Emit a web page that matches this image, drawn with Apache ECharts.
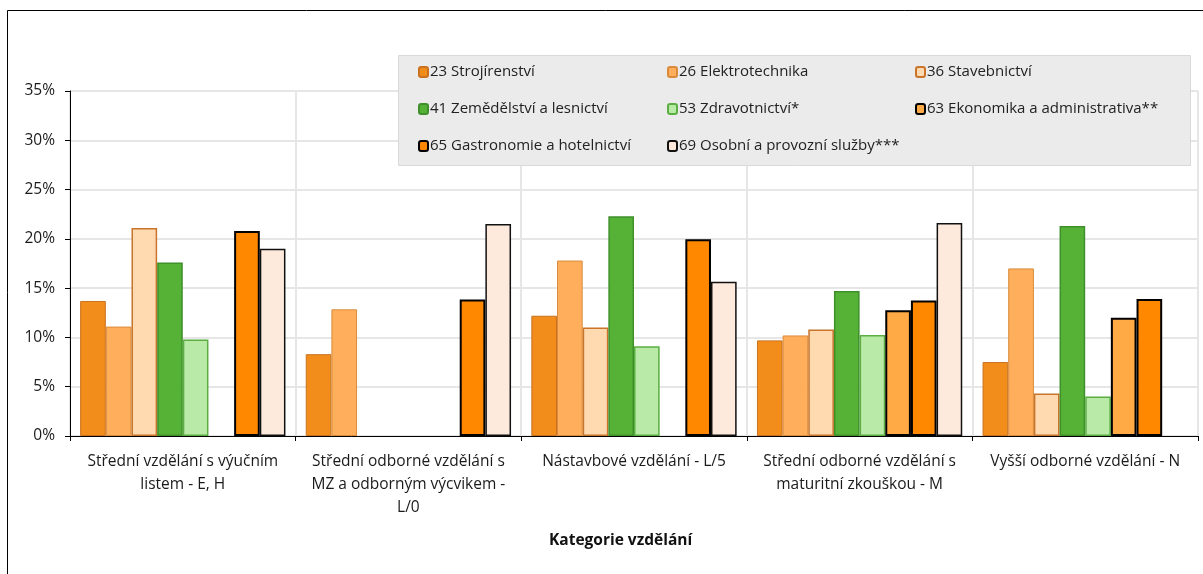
<!DOCTYPE html>
<html><head><meta charset="utf-8">
<script src="https://cdn.jsdelivr.net/npm/echarts@6/dist/echarts.min.js"></script>
<style>html,body{margin:0;padding:0;background:#fff}#c{width:1203px;height:574px}</style>
</head><body><div id="c"></div>
<script>
const categories = [
  "Střední vzdělání s výučním\nlistem - E, H",
  "Střední odborné vzdělání s\nMZ a odborným výcvikem -\nL/0",
  "Nástavbové vzdělání - L/5",
  "Střední odborné vzdělání s\nmaturitní zkouškou - M",
  "Vyšší odborné vzdělání - N"
];
const seriesNames = [
  "23 Strojírenství", "26 Elektrotechnika", "36 Stavebnictví",
  "41 Zemědělství a lesnictví", "53 Zdravotnictví*", "63 Ekonomika a administrativa**",
  "65 Gastronomie a hotelnictví", "69 Osobní a provozní služby***"
];
const s23 = [13.7, 8.3, 12.2, 9.7, 7.5];
const s26 = [11.1, 12.85, 17.8, 10.2, 17.0];
const s36 = [21.1, null, 11.0, 10.8, 4.3];
const s41 = [17.6, null, 22.3, 14.7, 21.3];
const s53 = [9.8, null, 9.1, 10.25, 4.0];
const s63 = [null, null, null, 12.75, 12.0];
const s65 = [20.8, 13.85, 19.95, 13.75, 13.9];
const s69 = [19.0, 21.5, 15.65, 21.6, null];
const yTicks = [0, 5, 10, 15, 20, 25, 30, 35];

const values = [s23, s26, s36, s41, s53, s63, s65, s69];
const styles = [
  {color: '#F28C1A', borderColor: '#C9711F', borderWidth: 1},
  {color: '#FFAF5C', borderColor: '#D98A3A', borderWidth: 1},
  {color: '#FFD9B0', borderColor: '#C8742A', borderWidth: 1.5},
  {color: '#55B236', borderColor: '#3F8F2B', borderWidth: 1.5},
  {color: '#BAEAA8', borderColor: '#5AAE42', borderWidth: 1.5},
  {color: '#FFAA44', borderColor: '#000', borderWidth: 2},
  {color: '#FF8800', borderColor: '#000', borderWidth: 2},
  {color: '#FDEADC', borderColor: '#111', borderWidth: 1.5}
];
const font = '"Open Sans", "Noto Sans", sans-serif';

const legendPos = [
  [418, 63], [667, 63], [915, 63],
  [418, 100], [667, 100], [915, 100],
  [418, 137], [667, 137]
];
const legends = seriesNames.map((n, i) => ({
  data: [n], left: legendPos[i][0], top: legendPos[i][1], z: 5,
  itemWidth: 9, itemHeight: 10, itemGap: 0, padding: 0, selectedMode: false,
  textStyle: {fontFamily: font, fontSize: 15, lineHeight: 18, color: '#222', padding: [0, 0, 0, -3]}
}));

const chart = echarts.init(document.getElementById('c'), null, {renderer: 'canvas'});
chart.setOption({
  animation: false,
  backgroundColor: '#fff',
  graphic: [
    {type: 'rect', shape: {x: 7.5, y: 10.5, width: 1210, height: 580}, style: {fill: 'none', stroke: '#000', lineWidth: 1}, z: 0, silent: true},
    {type: 'rect', shape: {x: 398.5, y: 55.5, width: 792, height: 110}, style: {fill: '#EBEBEB', stroke: '#D9D9D9', lineWidth: 1}, z: 3, silent: true},
    {type: 'text', left: 549, top: 533, style: {text: 'Kategorie vzdělání', font: 'bold 15.5px ' + font, fill: '#111'}, z: 5, silent: true}
  ],
  legend: legends,
  grid: {left: 70, right: 5, top: 91, bottom: 138},
  xAxis: {
    type: 'category', data: categories,
    axisLine: {lineStyle: {color: '#000', width: 1}},
    axisTick: {show: true, length: 5, lineStyle: {color: '#000'}},
    splitLine: {show: true, lineStyle: {color: '#E6E6E6', width: 2}},
    axisLabel: {fontFamily: font, fontSize: 15.5, color: '#1a1a1a', lineHeight: 23, margin: 14, interval: 0}
  },
  yAxis: {
    type: 'value', min: 0, max: 35, interval: 5,
    axisLine: {show: true, lineStyle: {color: '#000', width: 1}},
    axisTick: {show: true, length: 5, lineStyle: {color: '#000'}},
    splitLine: {show: true, lineStyle: {color: '#E6E6E6', width: 2}},
    axisLabel: {fontFamily: font, fontSize: 15.5, color: '#1a1a1a', margin: 15, formatter: v => yTicks.includes(v) ? v + '%' : ''}
  },
  series: seriesNames.map((n, i) => ({
    name: n, type: 'bar', data: values[i].map(v => v === null ? '-' : v),
    barGap: '0%', barCategoryGap: '9%',
    itemStyle: styles[i], z: 2
  }))
});
</script></body></html>
